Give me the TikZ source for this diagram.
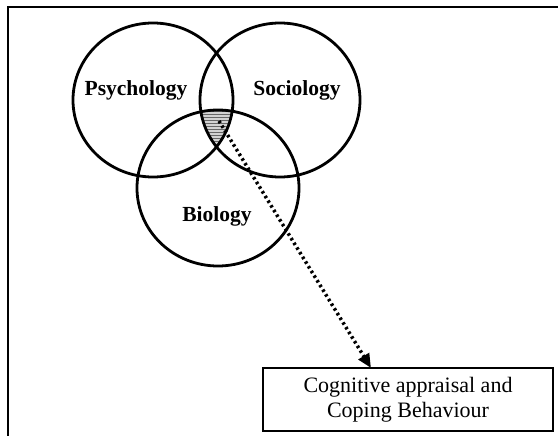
\documentclass[tikz,border=0pt]{standalone}
\usepackage{fontspec}
\setmainfont{Liberation Serif}
\usetikzlibrary{arrows.meta,patterns}

\begin{document}
\begin{tikzpicture}[x=1pt,y=-1pt,
    ring/.style={line width=2.8pt},
    label/.style={font=\fontsize{21.5}{24}\selectfont\bfseries},
    dots/.style={line width=3.5pt,dash pattern=on 2.5pt off 3pt,-{Triangle[length=14pt,width=12pt]}}]
    \useasboundingbox (0,0) rectangle (558,436);
    % Coordinates
    \coordinate (P) at (153,100);
    \coordinate (S) at (280,100);
    \coordinate (B) at (218,188);
    \coordinate (L) at (219,121);
    \coordinate (T) at (371,368);
    % Frame
    \draw[line width=2pt] (8,440) -- (8,7) -- (562,7);
    % Common part
    \begin{scope}
        \clip (P) ellipse (80 and 77);
        \clip (S) ellipse (80 and 77);
        \fill[gray!35] (B) ellipse (81 and 78);
        \fill[pattern=horizontal lines,pattern color=gray!80!black] (B) ellipse (81 and 78);
    \end{scope}
    % Circles
    \draw[ring] (P) ellipse (80 and 77);
    \draw[ring] (S) ellipse (80 and 77);
    \draw[ring] (B) ellipse (81 and 78);
    % Labels
    \node[label] (psy) at (136,90) {Psychology};
    \node[label] (soc) at (297,90) {Sociology};
    \node[label] (bio) at (217,216) {Biology};
    % Result box
    \node[draw,line width=1.2pt,minimum width=290pt,minimum height=63pt,align=center,
          font=\fontsize{22}{25}\selectfont] (box) at (408,399.5)
          {Cognitive appraisal and\\Coping Behaviour};
    \draw[dots] (L) -- (T);
\end{tikzpicture}
\end{document}
